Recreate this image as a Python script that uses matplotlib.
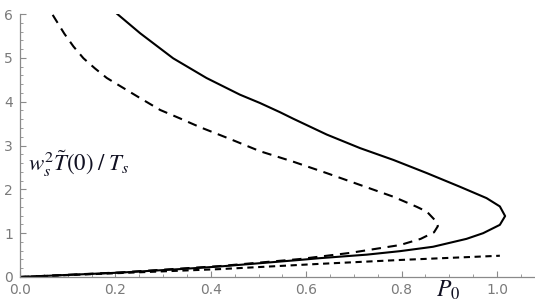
import matplotlib
matplotlib.use("Agg")
import matplotlib.pyplot as plt
from matplotlib.ticker import MultipleLocator

plt.rcParams['mathtext.fontset'] = 'stix'

# Solid curve, upper branch -> fold -> lower branch -> origin
solid_x = [0.204, 0.252, 0.321, 0.391, 0.461, 0.503, 0.545, 0.573, 0.643, 0.713,
           0.783, 0.853, 0.922, 0.978, 1.006, 1.017, 1.006, 0.971, 0.936, 0.866,
           0.797, 0.727, 0.629, 0.587, 0.419, 0.335, 0.210, 0.000]
solid_y = [6.00, 5.56, 4.99, 4.54, 4.16, 3.97, 3.76, 3.61, 3.25, 2.94,
           2.67, 2.37, 2.06, 1.80, 1.61, 1.39, 1.19, 1.00, 0.87, 0.69,
           0.59, 0.51, 0.43, 0.39, 0.24, 0.18, 0.10, 0.00]

# Long-dashed curve
dash_x = [0.0685, 0.093, 0.112, 0.133, 0.157, 0.182, 0.217, 0.252, 0.294, 0.335,
          0.377, 0.440, 0.503, 0.573, 0.643, 0.713, 0.783, 0.832, 0.853, 0.874,
          0.876, 0.868, 0.840, 0.797, 0.692, 0.587, 0.420, 0.210, 0.000]
dash_y = [5.98, 5.55, 5.26, 4.99, 4.76, 4.54, 4.31, 4.08, 3.81, 3.62,
          3.42, 3.15, 2.87, 2.63, 2.37, 2.10, 1.83, 1.60, 1.49, 1.25,
          1.16, 1.02, 0.87, 0.73, 0.55, 0.41, 0.25, 0.105, 0.00]

# Short-dashed curve
short_x = [0.000, 0.210, 0.419, 0.629, 0.800, 1.006]
short_y = [0.000, 0.090, 0.180, 0.300, 0.390, 0.485]

x_ticks = [0.0, 0.2, 0.4, 0.6, 0.8, 1.0]
x_tick_labels = ["0.0", "0.2", "0.4", "0.6", "0.8", "1.0"]
y_ticks = [0, 1, 2, 3, 4, 5, 6]
y_tick_labels = ["0", "1", "2", "3", "4", "5", "6"]

fig = plt.figure(figsize=(5.35, 3.04), dpi=100)
ax = fig.add_axes([20/535, 27/304, 515/535, 263/304])

lw = 1.5
ax.plot(solid_x, solid_y, color='black', lw=lw, solid_joinstyle='round')
l2, = ax.plot(dash_x, dash_y, color='black', lw=lw)
l2.set_dashes((4.5, 3.2))
l3, = ax.plot(short_x, short_y, color='black', lw=lw)
l3.set_dashes((3.0, 2.2))

ax.set_xlim(0, 515/477)
ax.set_ylim(0, 6.0)

for s in ['top', 'right']:
    ax.spines[s].set_visible(False)
grey = '#8a8a8a'
for s in ['left', 'bottom']:
    ax.spines[s].set_color(grey)
    ax.spines[s].set_linewidth(0.9)

ax.set_xticks(x_ticks)
ax.set_xticklabels(x_tick_labels)
ax.set_yticks(y_ticks)
ax.set_yticklabels(y_tick_labels)
ax.xaxis.set_minor_locator(MultipleLocator(0.05))
ax.yaxis.set_minor_locator(MultipleLocator(0.2))
ax.tick_params(which='major', direction='in', length=4, width=0.8, color=grey,
               labelcolor='#7a7a7a', labelsize=10)
ax.tick_params(axis='x', which='major', pad=4)
ax.tick_params(axis='y', which='major', pad=5)
ax.tick_params(which='minor', direction='in', length=2.3, width=0.6, color=grey)
for lab in ax.get_xticklabels() + ax.get_yticklabels():
    lab.set_fontfamily('DejaVu Sans')

ax.patch.set_alpha(0)

fig.text(28/535, (304-171)/304, r'$w_s^2\tilde{T}(0)\;/\;T_s$',
         fontsize=16.5, color='#111122', ha='left', va='baseline')
fig.text(448/535, (304-297)/304, r'$P_0$', fontsize=17, color='#111122',
         ha='center', va='baseline')

fig.savefig('out.png', dpi=100)
